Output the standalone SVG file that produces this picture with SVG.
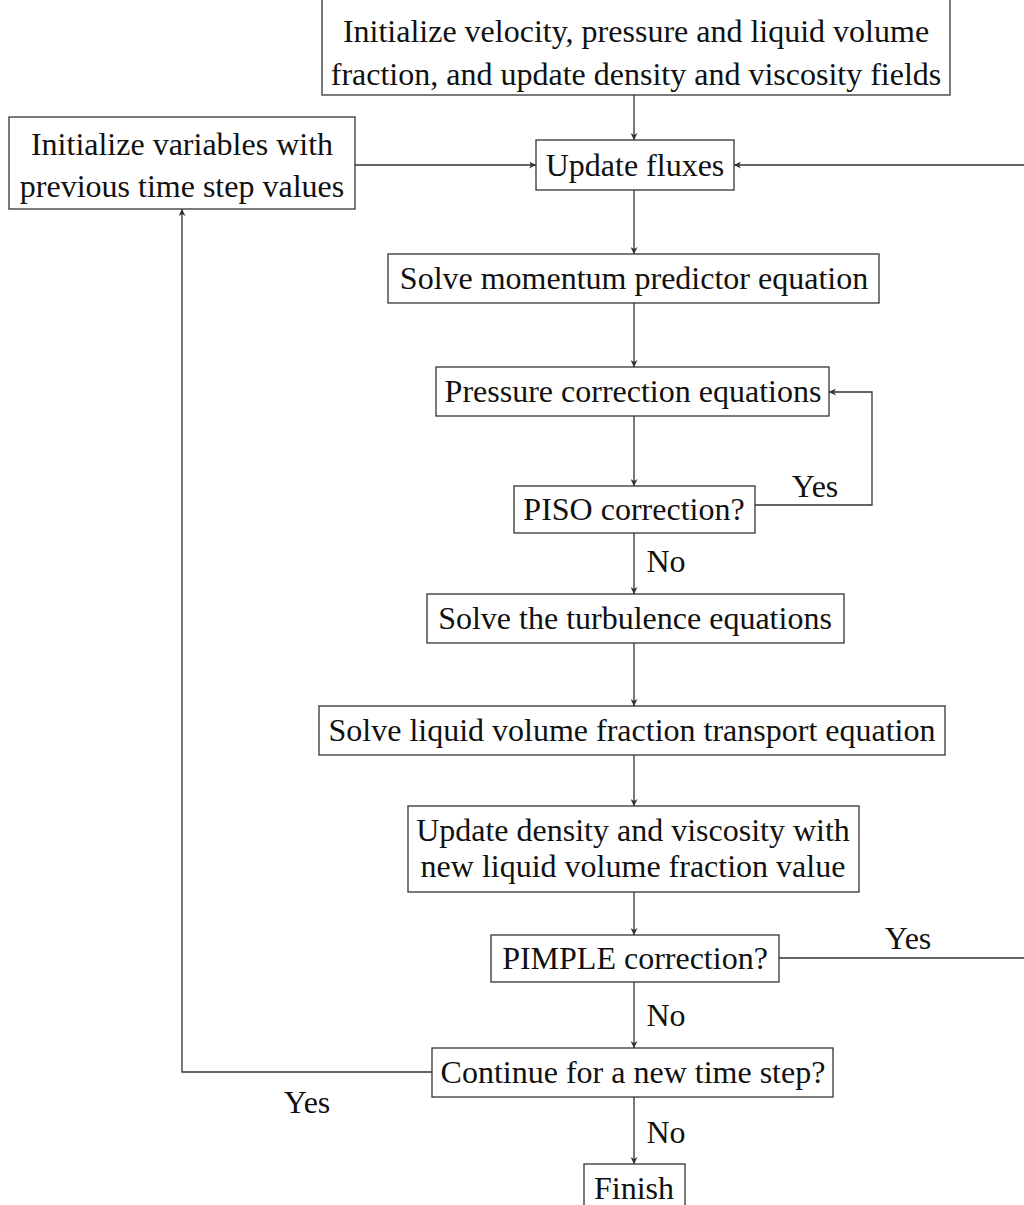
<svg xmlns="http://www.w3.org/2000/svg" width="1024" height="1205" viewBox="0 0 1024 1205">
<style>
.box{fill:#fff;stroke:#333;stroke-width:1.3}
.t{font-family:"Liberation Serif","Times New Roman",serif;font-size:32px;fill:#111;text-anchor:middle}
.c{fill:none;stroke:#333;stroke-width:1.3}
</style>
<defs>
<marker id="ah" viewBox="0 0 10 10" refX="10" refY="5" markerWidth="7" markerHeight="7" orient="auto" markerUnits="userSpaceOnUse">
<path d="M0,0 L10,5 L0,10 L3,5 Z" fill="#333"/>
</marker>
</defs>
<rect width="1024" height="1205" fill="#fff"/>
<g id="connectors">
<path class="c" d="M634,95 V140" marker-end="url(#ah)"/>
<path class="c" d="M355,165 H536" marker-end="url(#ah)"/>
<path class="c" d="M1030,165 H734" marker-end="url(#ah)"/>
<path class="c" d="M634,190 V254" marker-end="url(#ah)"/>
<path class="c" d="M634,303 V367" marker-end="url(#ah)"/>
<path class="c" d="M634,416 V486" marker-end="url(#ah)"/>
<path class="c" d="M755,505 H872 V392 H829" marker-end="url(#ah)"/>
<path class="c" d="M634,533 V594" marker-end="url(#ah)"/>
<path class="c" d="M634,643 V706" marker-end="url(#ah)"/>
<path class="c" d="M634,755 V806" marker-end="url(#ah)"/>
<path class="c" d="M634,892 V935" marker-end="url(#ah)"/>
<path class="c" d="M779,958 H1030"/>
<path class="c" d="M634,982 V1048" marker-end="url(#ah)"/>
<path class="c" d="M432,1072 H182 V209" marker-end="url(#ah)"/>
<path class="c" d="M634,1097 V1164" marker-end="url(#ah)"/>
<text class="t" x="815" y="497">Yes</text>
<text class="t" x="666" y="572">No</text>
<text class="t" x="908" y="949">Yes</text>
<text class="t" x="666" y="1026">No</text>
<text class="t" x="307" y="1113">Yes</text>
<text class="t" x="666" y="1143">No</text>
</g>
<g id="n1"><rect class="box" x="322" y="-1" width="628" height="96"/>
<text class="t" x="636" y="42">Initialize velocity, pressure and liquid volume</text>
<text class="t" x="636" y="85">fraction, and update density and viscosity fields</text></g>
<g id="n2"><rect class="box" x="536" y="140" width="198" height="50"/>
<text class="t" x="635" y="176">Update fluxes</text></g>
<g id="n3"><rect class="box" x="9" y="117" width="346" height="92"/>
<text class="t" x="182" y="155">Initialize variables with</text>
<text class="t" x="182" y="197">previous time step values</text></g>
<g id="n4"><rect class="box" x="388" y="254" width="491" height="49"/>
<text class="t" x="634" y="289">Solve momentum predictor equation</text></g>
<g id="n5"><rect class="box" x="436" y="367" width="393" height="49"/>
<text class="t" x="633" y="402">Pressure correction equations</text></g>
<g id="n6"><rect class="box" x="514" y="486" width="241" height="47"/>
<text class="t" x="634" y="520">PISO correction?</text></g>
<g id="n7"><rect class="box" x="427" y="594" width="417" height="49"/>
<text class="t" x="635" y="629">Solve the turbulence equations</text></g>
<g id="n8"><rect class="box" x="319" y="706" width="626" height="49"/>
<text class="t" x="632" y="741">Solve liquid volume fraction transport equation</text></g>
<g id="n9"><rect class="box" x="408" y="806" width="451" height="86"/>
<text class="t" x="633" y="841">Update density and viscosity with</text>
<text class="t" x="633" y="877">new liquid volume fraction value</text></g>
<g id="n10"><rect class="box" x="491" y="935" width="288" height="47"/>
<text class="t" x="635" y="969">PIMPLE correction?</text></g>
<g id="n11"><rect class="box" x="432" y="1048" width="401" height="49"/>
<text class="t" x="633" y="1083">Continue for a new time step?</text></g>
<g id="n12"><rect class="box" x="584" y="1164" width="101" height="60"/>
<text class="t" x="634" y="1199">Finish</text></g>
</svg>
